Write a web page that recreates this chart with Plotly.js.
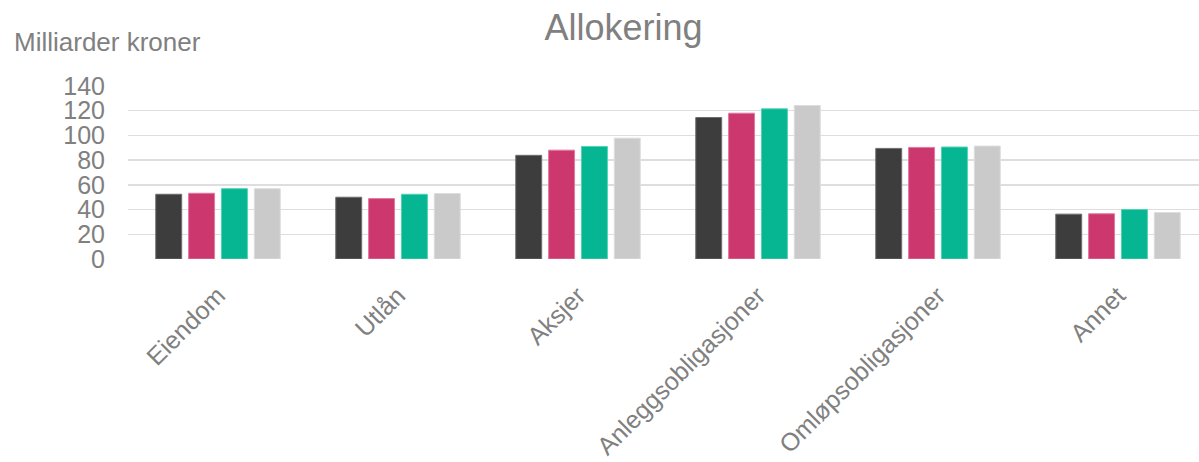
<!DOCTYPE html>
<html>
<head>
<meta charset="utf-8">
<script src="https://cdn.plot.ly/plotly-3.0.1.min.js"></script>
<style>html,body{margin:0;padding:0;background:#fff;}#chart{width:1199px;height:462px;}</style>
</head>
<body>
<div id="chart"></div>
<script>
const categories = ["Eiendom", "Utlån", "Aksjer", "Anleggsobligasjoner", "Omløpsobligasjoner", "Annet"];
const series1 = [52.4, 50.0, 83.9, 114.5, 89.5, 36.3];
const series2 = [53.2, 48.9, 88.1, 118.0, 90.3, 36.6];
const series3 = [56.9, 52.4, 91.1, 121.5, 90.6, 40.0];
const series4 = [56.9, 53.0, 97.8, 124.2, 91.4, 37.6];
const yTicks = [0, 20, 40, 60, 80, 100, 120, 140];

const colors = ["#3d3d3d", "#cc376d", "#06b592", "#c9cac9"];
const lineColors = ["#6e6e6e", "#e27aa0", "#4fd3b3", "#dcdddc"];
const allSeries = [series1, series2, series3, series4];

const traces = allSeries.map((s, i) => ({
  type: "bar",
  x: categories,
  y: s,
  marker: {color: colors[i], line: {color: lineColors[i], width: 1}},
  hoverinfo: "skip"
}));

const layout = {
  width: 1199, height: 462,
  margin: {l: 128, r: 0, t: 86, b: 203},
  paper_bgcolor: "#fff", plot_bgcolor: "#fff",
  barmode: "group",
  bargap: 0.27,
  bargroupgap: 0.21,
  showlegend: false,
  font: {family: "Liberation Sans, Arial, sans-serif", color: "#808080"},
  title: {
    text: "Allokering",
    font: {size: 36, color: "#808080"},
    x: 0.52, xref: "container", xanchor: "center",
    y: 0.94, yref: "container", yanchor: "middle"
  },
  xaxis: {
    type: "category",
    range: [-0.5, 5.45],
    tickangle: -45,
    tickfont: {size: 25, color: "#808080"},
    showgrid: false, zeroline: false, showline: false,
    ticks: "",
    ticklabelstandoff: 16,
    automargin: false
  },
  yaxis: {
    range: [0, 140],
    tickvals: yTicks,
    ticktext: yTicks.map(String),
    tickfont: {size: 25, color: "#808080"},
    showgrid: true, gridcolor: "#dedede", gridwidth: 1.5,
    zeroline: false, showline: false,
    ticks: "",
    ticklabelstandoff: 22,
    automargin: false
  },
  annotations: [{
    text: "Milliarder kroner",
    xref: "paper", yref: "paper",
    x: -0.108, xanchor: "left",
    y: 1.252, yanchor: "middle",
    showarrow: false,
    font: {size: 26, color: "#808080"}
  }]
};

Plotly.newPlot("chart", traces, layout, {staticPlot: true, displayModeBar: false});
</script>
</body>
</html>
